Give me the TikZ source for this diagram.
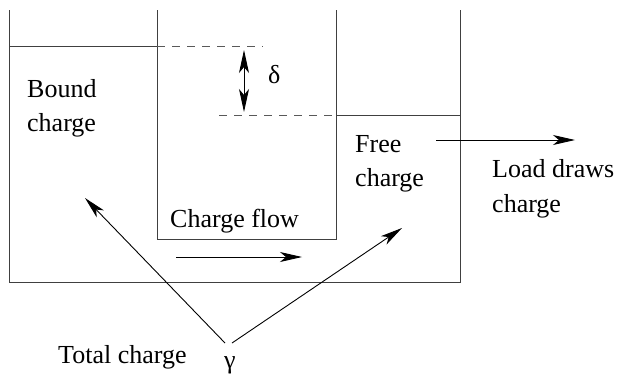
\documentclass[tikz,border=0pt]{standalone}
\usepackage{fontspec}
\setmainfont{Liberation Serif}
\newfontfamily\tmsfont{Liberation Serif}
\usetikzlibrary{arrows.meta}
\begin{document}
\begin{tikzpicture}[x=1pt,y=-1pt,
  wall/.style={line width=1pt,draw=black!75},
  lvl/.style={line width=1pt,draw=black!75},
  dsh/.style={line width=1pt,draw=black!65,dash pattern=on 8pt off 7pt},
  arr/.style={line width=0.9pt,-{Stealth[length=22pt,width=10pt,inset=6pt]}},
  dbl/.style={line width=0.9pt,{Stealth[length=23pt,width=10pt,inset=6pt]}-{Stealth[length=23pt,width=10pt,inset=6pt]}},
  lbl/.style={inner sep=0pt,font=\tmsfont\fontsize{26}{34}\selectfont,anchor=base west}]
\useasboundingbox (0,0) rectangle (617,373);
% outer tank
\coordinate (otl) at (9,10);
\coordinate (obl) at (9,282);
\coordinate (obr) at (460,282);
\coordinate (otr) at (460,10);
\draw[wall] (otl) -- (obl) -- (obr) -- (otr);
% inner wall
\coordinate (itl) at (157,10);
\coordinate (ibl) at (157,239);
\coordinate (ibr) at (336,239);
\coordinate (itr) at (336,10);
\draw[wall] (itl) -- (ibl) -- (ibr) -- (itr);
% levels
\coordinate (l1a) at (9,46);
\coordinate (l1b) at (157,46);
\coordinate (l1c) at (263,46);
\draw[lvl] (l1a) -- (l1b);
\draw[dsh] (l1b) -- (l1c);
\coordinate (l2a) at (219,115);
\coordinate (l2b) at (336,115);
\coordinate (l2c) at (460,115);
\draw[dsh] (l2a) -- (l2b);
\draw[lvl] (l2b) -- (l2c);
% delta
\coordinate (dt) at (244,50);
\coordinate (db) at (244,112);
\draw[dbl] (dt) -- (db);
\node[lbl] (delta) at (268,83) {δ};
% labels
\node[lbl] (bound) at (27,97) {Bound};
\node[lbl] (boundc) at (27,131) {charge};
\node[lbl] (free) at (355,152) {Free};
\node[lbl] (freec) at (355,186) {charge};
\node[lbl] (load) at (492,177) {Load draws};
\node[lbl] (loadc) at (492,212) {charge};
\node[lbl] (flow) at (170,227) {Charge flow};
\node[lbl] (total) at (58,363) {Total charge};
\node[lbl] (gamma) at (224,368) {γ};
% arrows
\coordinate (la) at (436,140);
\coordinate (lb) at (575,140);
\draw[arr] (la) -- (lb);
\coordinate (fa) at (176,257);
\coordinate (fb) at (302,257);
\draw[arr] (fa) -- (fb);
\coordinate (g1) at (225,343);
\coordinate (g1t) at (85,198);
\coordinate (g2) at (232,343);
\coordinate (g2t) at (402,228);
\draw[arr] (g1) -- (g1t);
\draw[arr] (g2) -- (g2t);
\end{tikzpicture}
\end{document}
